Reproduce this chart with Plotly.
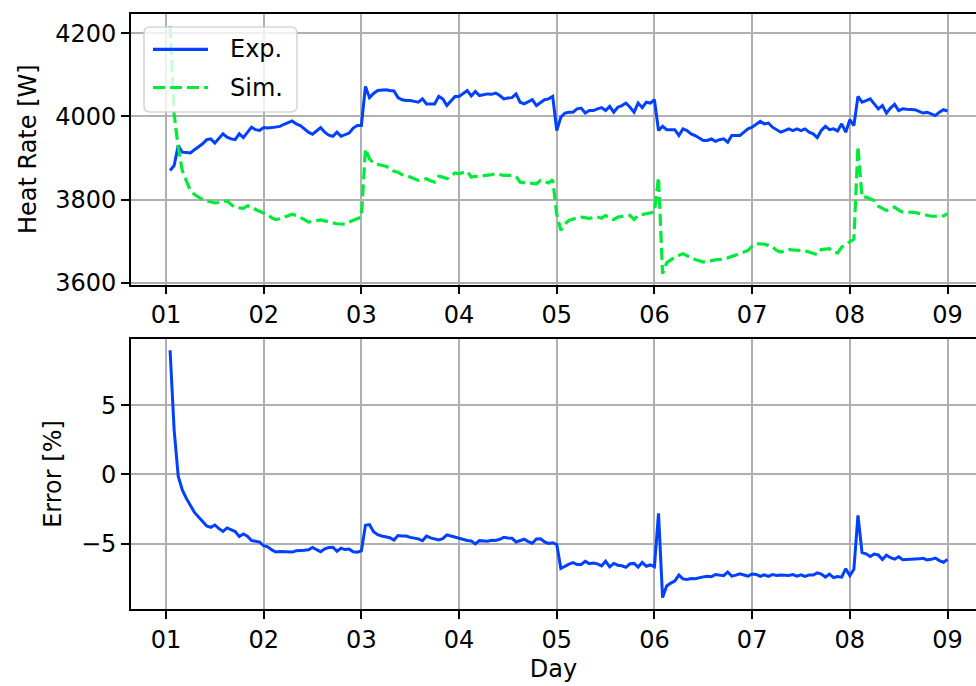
import pandas as pd
import plotly.graph_objects as go

# Hourly measured (Exp.) and simulated (Sim.) heat rate in W, from 01 01:00 to 09 00:00
exp_w = [
    3870, 3882, 3930, 3914, 3913, 3912, 3920, 3926, 3934, 3944, 3946, 3936,
    3948, 3958, 3950, 3946, 3944, 3958, 3949, 3962, 3974, 3968, 3966, 3973,
    3972, 3973, 3975, 3976, 3981, 3985, 3989, 3982, 3978, 3970, 3962, 3957,
    3966, 3973, 3962, 3955, 3952, 3962, 3952, 3956, 3960, 3972, 3978, 3978,
    4072, 4045, 4055, 4062, 4063, 4064, 4062, 4061, 4045, 4040, 4038, 4038,
    4036, 4034, 4042, 4030, 4030, 4030, 4048, 4042, 4026, 4038, 4048, 4048,
    4055, 4062, 4049, 4060, 4050, 4052, 4054, 4053, 4056, 4050, 4042, 4044,
    4045, 4054, 4034, 4030, 4036, 4040, 4026, 4034, 4040, 4042, 4048, 3966,
    3998, 4008, 4010, 4010, 4018, 4020, 4008, 4014, 4014, 4018, 4021, 4014,
    4024, 4010, 4022, 4026, 4032, 4022, 4010, 4032, 4021, 4034, 4032, 4040,
    3966, 3976, 3968, 3968, 3968, 3954, 3970, 3966, 3958, 3954, 3949, 3942,
    3942, 3946, 3940, 3944, 3946, 3938, 3954, 3954, 3954, 3962, 3970, 3974,
    3982, 3988, 3982, 3984, 3974, 3968, 3962, 3966, 3970, 3966, 3970, 3966,
    3970, 3962, 3958, 3949, 3966, 3976, 3968, 3970, 3965, 3982, 3962, 3992,
    3978, 4048, 4034, 4038, 4042, 4030, 4018, 4026, 4008, 4020, 4029, 4014,
    4018, 4017, 4017, 4016, 4012, 4008, 4010, 4006, 4002, 4010, 4016, 4013,
]

sim_w = [
    4217, 4006, 3925, 3870, 3845, 3822, 3812, 3805, 3800, 3797, 3795, 3792,
    3793, 3795, 3797, 3788, 3781, 3780, 3779, 3785, 3784, 3776, 3772, 3768,
    3764, 3756, 3752, 3754, 3758, 3762, 3765, 3762, 3758, 3752, 3746, 3748,
    3750, 3751, 3749, 3746, 3744, 3742, 3741, 3741, 3746, 3750, 3754, 3758,
    3922, 3898, 3887, 3885, 3882, 3880, 3876, 3868, 3866, 3860, 3858, 3854,
    3850, 3846, 3848, 3850, 3845, 3842, 3856, 3854, 3850, 3858, 3864, 3862,
    3865, 3868, 3854, 3856, 3856, 3857, 3858, 3860, 3862, 3860, 3858, 3858,
    3858, 3856, 3842, 3841, 3840, 3839, 3838, 3846, 3843, 3840, 3848, 3765,
    3726, 3742, 3750, 3754, 3756, 3758, 3756, 3755, 3757, 3758, 3755, 3762,
    3755, 3752, 3758, 3760, 3761, 3762, 3752, 3762, 3765, 3766, 3768, 3770,
    3854, 3622, 3648, 3656, 3662, 3666, 3670, 3665, 3660, 3656, 3653, 3650,
    3652, 3654, 3655, 3656, 3657, 3660, 3663, 3666, 3670, 3674, 3678, 3688,
    3694, 3694, 3693, 3690, 3686, 3678, 3674, 3677, 3680, 3679, 3678, 3678,
    3677, 3674, 3670, 3668, 3680, 3681, 3682, 3674, 3672, 3686, 3692, 3700,
    3705, 3928, 3806, 3806, 3802, 3798, 3784, 3778, 3774, 3778, 3782, 3775,
    3770, 3770, 3770, 3769, 3767, 3765, 3762, 3760, 3760, 3760, 3761, 3766,
]

times = pd.date_range("2021-03-01 01:00", periods=len(exp_w), freq="h")
day_ticks = pd.date_range("2021-03-01", "2021-03-09", freq="D")
day_labels = [d.strftime("%d") for d in day_ticks]

heat_ticks = [3600, 3800, 4000, 4200]
error_ticks = [-5, 0, 5]

# Relative deviation of the simulation from the measurement, in percent
error_pct = [(s - e) / e * 100.0 for s, e in zip(sim_w, exp_w)]

BLUE = "#0040ff"
GREEN = "#00ea3a"
SIM_DASH = "12px,5px"
FONT = "DejaVu Sans"
W, H = 976, 686
ML, MR, MT, MB = 131, 0, 14, 77

fig = go.Figure()
fig.add_trace(go.Scatter(x=times, y=exp_w, mode="lines", name="Exp.",
                         line=dict(color=BLUE, width=3), showlegend=False,
                         xaxis="x", yaxis="y"))
fig.add_trace(go.Scatter(x=times, y=sim_w, mode="lines", name="Sim.",
                         line=dict(color=GREEN, width=3.2, dash=SIM_DASH),
                         showlegend=False, xaxis="x", yaxis="y"))
fig.add_trace(go.Scatter(x=times, y=error_pct, mode="lines", name="Error",
                         line=dict(color=BLUE, width=3), showlegend=False,
                         xaxis="x2", yaxis="y2"))

axis_style = dict(
    showline=True, linecolor="black", linewidth=1.6,
    ticks="outside", ticklen=8, tickwidth=1.6, tickcolor="black",
    showgrid=True, gridcolor="#b0b0b0", gridwidth=1.6, zeroline=False,
    tickfont=dict(family=FONT, size=24, color="black"),
)
x_range = ["2021-02-28 15:24", "2021-03-09 07:00"]

plot_h = H - MT - MB


def py(px_y):
    """Pixel row -> paper y fraction."""
    return (H - MB - px_y) / plot_h


def px(px_x):
    """Pixel column -> paper x fraction."""
    return (px_x - ML) / (W - ML - MR)


top_dom = [py(284.5), 1.0]
bot_dom = [0.0, py(339)]

fig.update_layout(
    width=W, height=H,
    margin=dict(l=ML, r=MR, t=MT, b=MB),
    paper_bgcolor="white", plot_bgcolor="white",
    font=dict(family=FONT, size=24, color="black"),
    xaxis=dict(axis_style, type="date", range=x_range, domain=[0, 1],
               anchor="y", mirror=True, tickvals=day_ticks, ticktext=day_labels),
    yaxis=dict(axis_style, range=[3596, 4246], domain=top_dom, anchor="x",
               tickvals=heat_ticks,
               title=dict(text="Heat Rate [W]", standoff=12,
                          font=dict(family=FONT, size=24))),
    xaxis2=dict(axis_style, type="date", range=x_range, domain=[0, 1],
                anchor="y2", mirror=True, tickvals=day_ticks, ticktext=day_labels,
                title=dict(text="Day", standoff=8,
                           font=dict(family=FONT, size=24))),
    yaxis2=dict(axis_style, range=[-9.73, 9.78], domain=bot_dom, anchor="x2",
                tickvals=error_ticks,
                title=dict(text="Error [%]", standoff=13,
                           font=dict(family=FONT, size=24))),
)

# Legend box (semi-transparent, rounded corners) drawn over the top panel
bx0, bx1, by0, by1 = px(144), px(297), py(112), py(27)
rx, ry = 6 / (W - ML - MR), 6 / plot_h
box_path = (
    f"M {bx0 + rx},{by1} L {bx1 - rx},{by1} Q {bx1},{by1} {bx1},{by1 - ry} "
    f"L {bx1},{by0 + ry} Q {bx1},{by0} {bx1 - rx},{by0} "
    f"L {bx0 + rx},{by0} Q {bx0},{by0} {bx0},{by0 + ry} "
    f"L {bx0},{by1 - ry} Q {bx0},{by1} {bx0 + rx},{by1} Z"
)
fig.add_shape(type="path", path=box_path, xref="paper", yref="paper",
              fillcolor="rgba(255,255,255,0.8)",
              line=dict(color="rgba(204,204,204,0.8)", width=1.6), layer="above")

legend_items = [("Exp.", BLUE, "solid", 49.3), ("Sim.", GREEN, SIM_DASH, 87.5)]
for label, color, dash, row in legend_items:
    fig.add_shape(type="line", xref="paper", yref="paper",
                  x0=px(153), x1=px(208), y0=py(row), y1=py(row),
                  line=dict(color=color, width=3.2, dash=dash), layer="above")
    fig.add_annotation(text=label, xref="paper", yref="paper",
                       x=px(228), y=py(row), xanchor="left", yanchor="middle",
                       showarrow=False, font=dict(family=FONT, size=24, color="black"))

fig.write_html("out.html")
